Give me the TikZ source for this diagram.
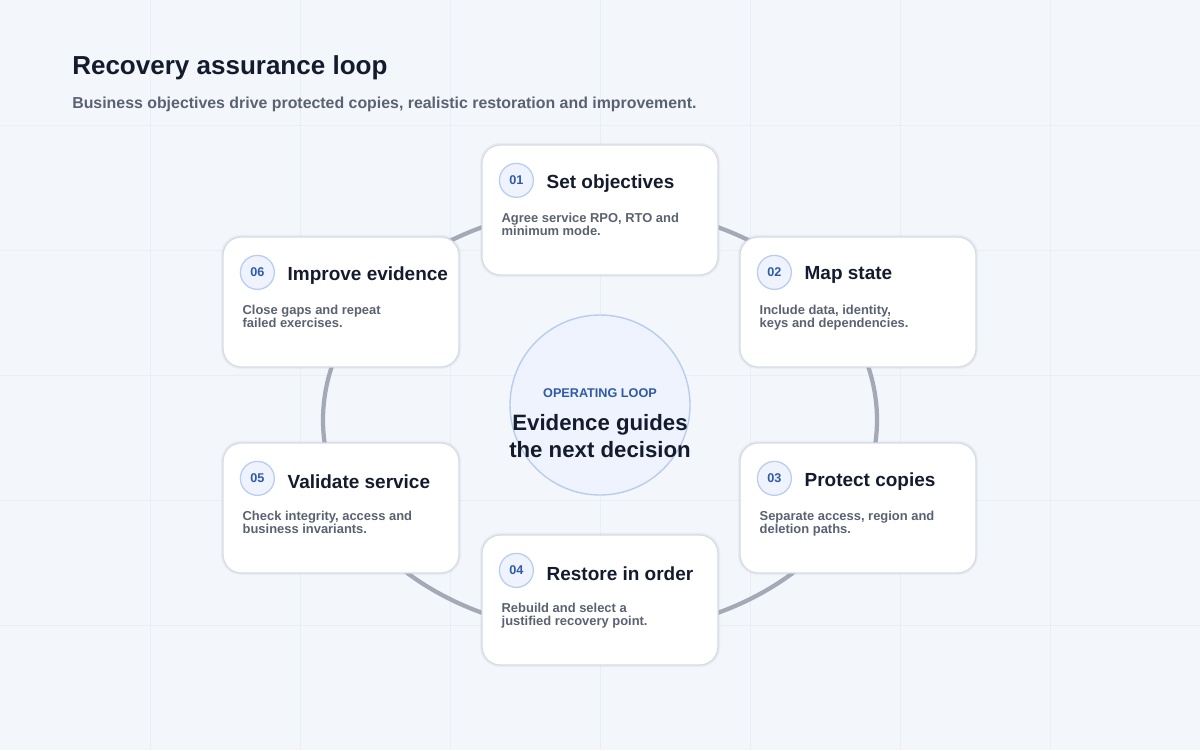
\documentclass[tikz,border=0pt]{standalone}
\usepackage{fontspec}
\setmainfont{Liberation Sans}
\usetikzlibrary{positioning}
\definecolor{bgcol}{HTML}{F3F6FB}
\definecolor{gridcol}{HTML}{E9EDF4}
\definecolor{ringcol}{HTML}{A3A9B5}
\definecolor{cardedge}{HTML}{D5DCE6}
\definecolor{inkdark}{HTML}{141B2D}
\definecolor{inkgray}{HTML}{5A6272}
\definecolor{numblue}{HTML}{2F5AA8}
\definecolor{numfill}{HTML}{EEF3FD}
\definecolor{numedge}{HTML}{B9CDEE}
\tikzset{
  card/.style={draw=cardedge, line width=0.9pt, fill=white, rounded corners=13pt,
    minimum width=236*0.025cm, minimum height=130*0.025cm, inner sep=0pt},
  shade/.style={fill=black!40, opacity=0.10, rounded corners=14pt,
    minimum width=240*0.025cm, minimum height=134*0.025cm},
  numdot/.style={circle, draw=numedge, line width=0.9pt, fill=numfill,
    minimum size=34*0.025cm, inner sep=0pt, text=numblue, font=\bfseries\fontsize{9}{10}\selectfont},
  steptitle/.style={anchor=west, inner sep=0pt, text=inkdark, font=\bfseries\fontsize{13.5}{15}\selectfont},
  stepdesc/.style={anchor=north west, inner sep=0pt, align=left, text=inkgray,
    font=\bfseries\fontsize{9.2}{9.3}\selectfont},
}
% card: name, centre x, centre y, number, title, text
\newcommand{\stepcard}[6]{
  \node[shade] at (#2+0.6*0.025,#3-0.15) {};
  \node[card] (#1) at (#2,#3) {};
  \node[numdot] (#1n) at ([xshift=35*0.025cm,yshift=-36*0.025cm]#1.north west) {#4};
  \node[steptitle] (#1t) at ([xshift=30*0.025cm,yshift=-3*0.025cm]#1n.center) {#5};
  \node[stepdesc] (#1d) at ([xshift=20*0.025cm,yshift=-68*0.025cm]#1.north west) {#6};
}
\begin{document}
\begin{tikzpicture}[x=0.025cm,y=-0.025cm]
\fill[bgcol] (0,0) rectangle (1200,750);
\useasboundingbox (0,0) rectangle (1200,750);
\foreach \gx in {150,300,...,1050} \draw[gridcol, line width=0.5pt] (\gx,0) -- (\gx,750);
\foreach \gy in {125,250,...,625} \draw[gridcol, line width=0.5pt] (0,\gy) -- (1200,\gy);

\node[anchor=west, inner sep=0pt, text=inkdark, font=\bfseries\fontsize{18.5}{20}\selectfont] (title) at (72,68) {Recovery assurance loop};
\node[anchor=west, inner sep=0pt, text=inkgray, font=\bfseries\fontsize{11.3}{13}\selectfont] (subtitle) at (72,104) {Business objectives drive protected copies, realistic restoration and improvement.};

\draw[ringcol, line width=3pt] (600,420) ellipse (277 and 213);

\node[circle, draw=numedge, line width=1pt, fill=numfill, minimum size=180*0.025cm] (hub) at (600,405) {};
\node[text=numblue, font=\bfseries\fontsize{9}{10}\selectfont, inner sep=0pt] (hubtag) at (600,393) {OPERATING LOOP};
\node[text=inkdark, font=\bfseries\fontsize{15.8}{19}\selectfont, align=center, inner sep=0pt] (hubtext) at (600,436) {Evidence guides\\the next decision};

\stepcard{s1}{600}{210}{01}{Set objectives}{Agree service RPO, RTO and\\minimum mode.}
\stepcard{s2}{858}{302}{02}{Map state}{Include data, identity,\\keys and dependencies.}
\stepcard{s3}{858}{508}{03}{Protect copies}{Separate access, region and\\deletion paths.}
\stepcard{s4}{600}{600}{04}{Restore in order}{Rebuild and select a\\justified recovery point.}
\stepcard{s5}{341}{508}{05}{Validate service}{Check integrity, access and\\business invariants.}
\stepcard{s6}{341}{302}{06}{Improve evidence}{Close gaps and repeat\\failed exercises.}
\end{tikzpicture}
\end{document}
